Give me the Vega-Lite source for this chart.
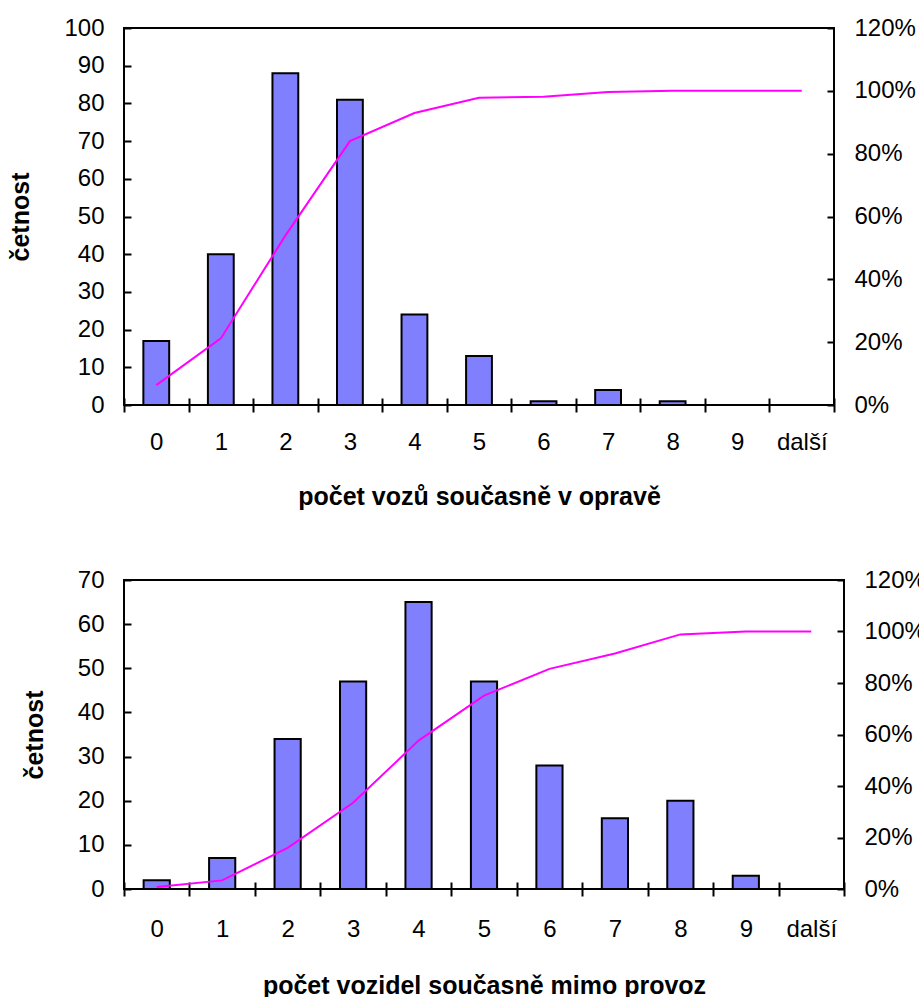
{
  "$schema": "https://vega.github.io/schema/vega-lite/v6.json",
  "background": "white",
  "padding": {"left": 7, "top": 15, "right": 5, "bottom": 5},
  "spacing": 57,
  "config": {
    "font": "Liberation Sans",
    "view": {"stroke": "black", "strokeWidth": 2},
    "axis": {
      "labelFont": "Liberation Sans", "labelFontSize": 24, "labelColor": "black",
      "titleFont": "Liberation Sans", "titleFontSize": 25, "titleFontWeight": "bold", "titleColor": "black",
      "tickColor": "black", "tickWidth": 2, "domain": false, "grid": false
    }
  },
  "resolve": {"scale": {"x": "independent", "y": "independent"}},
  "vconcat": [
    {
      "width": 710, "height": 377,
      "data": {"values": [
        {"kat": "0", "cetnost": 17, "kumul": 0.0632},
        {"kat": "1", "cetnost": 40, "kumul": 0.2119},
        {"kat": "2", "cetnost": 88, "kumul": 0.5390},
        {"kat": "3", "cetnost": 81, "kumul": 0.8401},
        {"kat": "4", "cetnost": 24, "kumul": 0.9294},
        {"kat": "5", "cetnost": 13, "kumul": 0.9777},
        {"kat": "6", "cetnost": 1, "kumul": 0.9814},
        {"kat": "7", "cetnost": 4, "kumul": 0.9963},
        {"kat": "8", "cetnost": 1, "kumul": 1.0},
        {"kat": "9", "cetnost": 0, "kumul": 1.0},
        {"kat": "další", "cetnost": 0, "kumul": 1.0}
      ]},
      "encoding": {
        "x": {"field": "kat", "type": "nominal", "sort": null,
          "scale": {"paddingInner": 0, "paddingOuter": 0},
          "axis": {"title": "počet vozů současně v opravě", "labelAngle": 0, "tickBand": "extent",
            "tickSize": 14, "offset": -7, "labelPadding": 18, "titlePadding": 30}}
      },
      "layer": [
        {"mark": {"type": "bar", "fill": "#8080FF", "stroke": "black", "strokeWidth": 2, "width": {"band": 0.4}},
         "encoding": {"y": {"field": "cetnost", "type": "quantitative",
           "scale": {"domain": [0, 100]},
           "axis": {"title": "četnost", "values": [0,10,20,30,40,50,60,70,80,90,100], "offset": -7, "tickSize": 7, "labelPadding": 20, "titlePadding": 30}}}},
        {"mark": {"type": "line", "color": "#FF00FF", "strokeWidth": 2},
         "encoding": {"y": {"field": "kumul", "type": "quantitative",
           "scale": {"domain": [0, 1.2]},
           "axis": {"title": null, "orient": "right", "format": ".0%", "values": [0,0.2,0.4,0.6,0.8,1.0,1.2], "offset": -7, "tickSize": 7, "labelPadding": 20}}}}
      ],
      "resolve": {"scale": {"y": "independent"}}
    },
    {
      "width": 720, "height": 309,
      "data": {"values": [
        {"kat": "0", "cetnost": 2, "kumul": 0.0074},
        {"kat": "1", "cetnost": 7, "kumul": 0.0335},
        {"kat": "2", "cetnost": 34, "kumul": 0.1599},
        {"kat": "3", "cetnost": 47, "kumul": 0.3346},
        {"kat": "4", "cetnost": 65, "kumul": 0.5762},
        {"kat": "5", "cetnost": 47, "kumul": 0.7509},
        {"kat": "6", "cetnost": 28, "kumul": 0.8550},
        {"kat": "7", "cetnost": 16, "kumul": 0.9145},
        {"kat": "8", "cetnost": 20, "kumul": 0.9888},
        {"kat": "9", "cetnost": 3, "kumul": 1.0},
        {"kat": "další", "cetnost": 0, "kumul": 1.0}
      ]},
      "encoding": {
        "x": {"field": "kat", "type": "nominal", "sort": null,
          "scale": {"paddingInner": 0, "paddingOuter": 0},
          "axis": {"title": "počet vozidel současně mimo provoz", "labelAngle": 0, "tickBand": "extent",
            "tickSize": 14, "offset": -7, "labelPadding": 21, "titlePadding": 32}}
      },
      "layer": [
        {"mark": {"type": "bar", "fill": "#8080FF", "stroke": "black", "strokeWidth": 2, "width": {"band": 0.4}},
         "encoding": {"y": {"field": "cetnost", "type": "quantitative",
           "scale": {"domain": [0, 70]},
           "axis": {"title": "četnost", "values": [0,10,20,30,40,50,60,70], "offset": -7, "tickSize": 7, "labelPadding": 20, "titlePadding": 30}}}},
        {"mark": {"type": "line", "color": "#FF00FF", "strokeWidth": 2},
         "encoding": {"y": {"field": "kumul", "type": "quantitative",
           "scale": {"domain": [0, 1.2]},
           "axis": {"title": null, "orient": "right", "format": ".0%", "values": [0,0.2,0.4,0.6,0.8,1.0,1.2], "offset": -7, "tickSize": 7, "labelPadding": 20}}}}
      ],
      "resolve": {"scale": {"y": "independent"}}
    }
  ]
}
